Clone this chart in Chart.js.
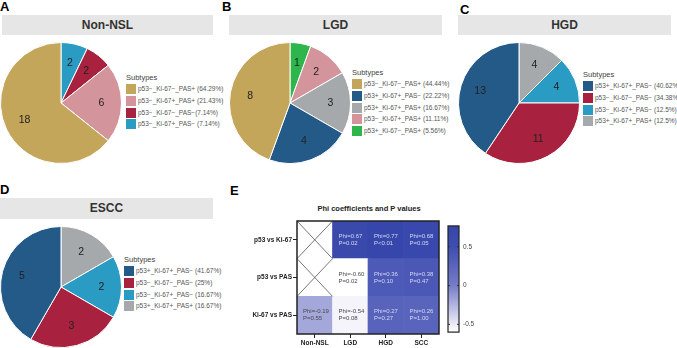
<!DOCTYPE html>
<html>
<head>
<meta charset="utf-8">
<script src="https://cdn.jsdelivr.net/npm/chart.js@4.4.0/dist/chart.umd.min.js"></script>
<style>
    body { margin: 0; width: 677px; height: 348px; position: relative; background: #fff; overflow: hidden;
           font-family: "Liberation Sans", Arial, sans-serif; }
    .abs { position: absolute; }
    .letter { font-size: 13px; font-weight: bold; line-height: 13px; color: #000; }
    .bar { background: #e6e6e6; font-size: 12px; font-weight: bold; color: #333; text-align: center; }
    .legTitle { font-size: 7.5px; color: #444; line-height: 10px; white-space: nowrap; }
    .legText { font-size: 6.5px; color: #555; line-height: 10px; white-space: nowrap; }
    .box { width: 10px; height: 10px; }
    .hmTitle { font-size: 7.5px; font-weight: bold; color: #222; line-height: 10px; white-space: nowrap; }
</style>
</head>
<body>

<div class="abs letter" style="left:0px;top:0px">A</div>
<div class="abs letter" style="left:222px;top:0px">B</div>
<div class="abs letter" style="left:460px;top:3px">C</div>
<div class="abs letter" style="left:0px;top:183px">D</div>
<div class="abs letter" style="left:230px;top:184px">E</div>

<div class="abs bar" style="left:2px;top:15px;width:211px;height:20px;line-height:20px">Non-NSL</div>
<div class="abs bar" style="left:229px;top:15px;width:213px;height:20px;line-height:20px">LGD</div>
<div class="abs bar" style="left:458px;top:15px;width:213px;height:20px;line-height:20px">HGD</div>
<div class="abs bar" style="left:0px;top:198px;width:213px;height:21px;line-height:21px">ESCC</div>

<canvas id="pieA" class="abs" width="122" height="122" style="left:0px;top:42px"></canvas>
<canvas id="pieB" class="abs" width="122" height="122" style="left:229px;top:42px"></canvas>
<canvas id="pieC" class="abs" width="122" height="122" style="left:458px;top:42px"></canvas>
<canvas id="pieD" class="abs" width="122" height="122" style="left:0px;top:226px"></canvas>

<div class="abs hmTitle" style="left:269px;top:204px;width:200px;text-align:center">Phi coefficients and P values</div>
<canvas id="heat" class="abs" width="213" height="134" style="left:230px;top:214px"></canvas>
<canvas id="cbar" class="abs" width="40" height="122" style="left:446px;top:218px"></canvas>

<script>
// pie data, in legend order (the pies run the other way round)
const subtypesA = ['p53−_Ki-67−_PAS+ (64.29%)', 'p53−_Ki-67+_PAS+ (21.43%)', 'p53−_Ki-67−_PAS−(7.14%)', 'p53−_Ki-67+_PAS− (7.14%)'];
const countsA = [18, 6, 2, 2];
const colorsA = ['#c4a65a', '#d4949b', '#a8223f', '#2a9bc2'];

const subtypesB = ['p53−_Ki-67−_PAS+ (44.44%)', 'p53+_Ki-67+_PAS− (22.22%)', 'p53+_Ki-67+_PAS+ (16.67%)', 'p53−_Ki-67+_PAS+ (11.11%)', 'p53+_Ki-67−_PAS+ (5.56%)'];
const countsB = [8, 4, 3, 2, 1];
const colorsB = ['#c4a65a', '#245a87', '#a5a9ab', '#d4949b', '#2db64c'];

const subtypesC = ['p53+_Ki-67+_PAS− (40.62%)', 'p53−_Ki-67−_PAS− (34.38%)', 'p53−_Ki-67+_PAS− (12.5%)', 'p53+_Ki-67+_PAS+ (12.5%)'];
const countsC = [13, 11, 4, 4];
const colorsC = ['#245a87', '#a8223f', '#2a9bc2', '#a5a9ab'];

const subtypesD = ['p53+_Ki-67+_PAS− (41.67%)', 'p53−_Ki-67−_PAS− (25%)', 'p53−_Ki-67+_PAS− (16.67%)', 'p53+_Ki-67+_PAS+ (16.67%)'];
const countsD = [5, 3, 2, 2];
const colorsD = ['#245a87', '#a8223f', '#2a9bc2', '#a5a9ab'];

// heatmap data, rows bottom to top
const hmCols = ['Non-NSL', 'LGD', 'HGD', 'SCC'];
const hmRows = ['Ki-67 vs PAS', 'p53 vs PAS', 'p53 vs Ki-67'];
const phiKi67PAS = [-0.19, -0.54, 0.27, 0.26];
const pKi67PAS = ['P=0.55', 'P=0.08', 'P=0.27', 'P=1.00'];
const phiP53PAS = [null, -0.60, 0.36, 0.38];
const pP53PAS = [null, 'P=0.02', 'P=0.10', 'P=0.47'];
const phiP53Ki67 = [null, 0.67, 0.77, 0.68];
const pP53Ki67 = [null, 'P=0.02', 'P<0.01', 'P=0.05'];

// colour scale
const cbRange = [-0.6, 0.77];
const cbTicks = [-0.5, 0, 0.5];
const cbStopVals = [-0.6, -0.5, 0, 0.5, 0.77];
const cbStopCols = ['#ffffff', '#ececf6', '#767cc8', '#3e4db0', '#3646aa'];

function hexRgb(h) {
    return [parseInt(h.substr(1, 2), 16), parseInt(h.substr(3, 2), 16), parseInt(h.substr(5, 2), 16)];
}

function phiColor(v) {
    for (let i = 0; i < cbStopVals.length - 1; i++) {
        if (v <= cbStopVals[i + 1] || i === cbStopVals.length - 2) {
            let t = (v - cbStopVals[i]) / (cbStopVals[i + 1] - cbStopVals[i]);
            t = Math.max(0, Math.min(1, t));
            const a = hexRgb(cbStopCols[i]), b = hexRgb(cbStopCols[i + 1]);
            const c = a.map((x, k) => Math.round(x + (b[k] - x) * t));
            return 'rgb(' + c.join(',') + ')';
        }
    }
}

// numbers inside the slices
const sliceLabels = {
    id: 'sliceLabels',
    afterDatasetsDraw(chart) {
        const ctx = chart.ctx;
        const vals = chart.data.datasets[0].data;
        ctx.save();
        ctx.font = '10.5px "Liberation Sans", Arial, sans-serif';
        ctx.fillStyle = '#222';
        ctx.textAlign = 'center';
        ctx.textBaseline = 'middle';
        chart.getDatasetMeta(0).data.forEach((arc, i) => {
            const p = arc.getProps(['x', 'y', 'startAngle', 'endAngle', 'outerRadius'], true);
            const mid = (p.startAngle + p.endAngle) / 2;
            const r = p.outerRadius * 0.67;
            ctx.fillText(vals[i], p.x + Math.cos(mid) * r, p.y + Math.sin(mid) * r);
        });
        ctx.restore();
    }
};

function makePie(id, counts, colors) {
    new Chart(document.getElementById(id), {
        type: 'pie',
        data: {
            labels: counts.map((c, i) => i),
            datasets: [{
                data: counts.slice().reverse(),
                backgroundColor: colors.slice().reverse(),
                borderColor: '#ffffff',
                borderWidth: 1,
                hoverOffset: 0
            }]
        },
        options: {
            responsive: false,
            animation: false,
            layout: { padding: 0 },
            plugins: { legend: { display: false }, tooltip: { enabled: false } }
        },
        plugins: [sliceLabels]
    });
}

function makeLegend(left, titleY, names, colors) {
    const t = document.createElement('div');
    t.className = 'abs legTitle';
    t.style.left = left + 'px';
    t.style.top = (titleY - 5) + 'px';
    t.textContent = 'Subtypes';
    document.body.appendChild(t);
    names.forEach((n, i) => {
        const y = titleY + 11 + i * 11.8;
        const b = document.createElement('div');
        b.className = 'abs box';
        b.style.left = left + 'px';
        b.style.top = (y - 5) + 'px';
        b.style.background = colors[i];
        document.body.appendChild(b);
        const s = document.createElement('div');
        s.className = 'abs legText';
        s.style.left = (left + 12) + 'px';
        s.style.top = (y - 5) + 'px';
        s.textContent = n;
        document.body.appendChild(s);
    });
}

makePie('pieA', countsA, colorsA);
makePie('pieB', countsB, colorsB);
makePie('pieC', countsC, colorsC);
makePie('pieD', countsD, colorsD);

makeLegend(126, 78, subtypesA, colorsA);
makeLegend(352, 73, subtypesB, colorsB);
makeLegend(583, 75, subtypesC, colorsC);
makeLegend(124, 260, subtypesD, colorsD);

// heatmap
const hmPhi = [phiKi67PAS, phiP53PAS, phiP53Ki67];
const hmP = [pKi67PAS, pP53PAS, pP53Ki67];

const cellText = {
    id: 'cellText',
    afterDatasetsDraw(chart) {
        const ctx = chart.ctx;
        const a = chart.chartArea;
        ctx.save();
        chart.data.datasets.forEach((ds, di) => {
            chart.getDatasetMeta(di).data.forEach((bar, i) => {
                const p = bar.getProps(['x', 'y', 'base', 'width'], true);
                const l = p.x - p.width / 2, r = p.x + p.width / 2;
                const t = Math.min(p.y, p.base), b = Math.max(p.y, p.base);
                const phi = hmPhi[di][i];
                if (phi === null) {
                    ctx.strokeStyle = '#555';
                    ctx.lineWidth = 0.8;
                    ctx.beginPath();
                    ctx.moveTo(l, t); ctx.lineTo(r, b);
                    ctx.moveTo(r, t); ctx.lineTo(l, b);
                    ctx.stroke();
                } else {
                    const cy = (t + b) / 2;
                    ctx.fillStyle = phi > 0 ? '#d4d8f2' : '#4a4a4a';
                    ctx.font = '6px "Liberation Sans", Arial, sans-serif';
                    ctx.textAlign = 'left';
                    ctx.textBaseline = 'middle';
                    ctx.fillText('Phi=' + phi.toFixed(2), l + 6, cy - 3.5);
                    ctx.fillText(hmP[di][i], l + 6, cy + 3.5);
                }
            });
        });
        ctx.strokeStyle = '#222';
        ctx.lineWidth = 1.5;
        ctx.strokeRect(a.left, a.top, a.width, a.height);
        ctx.restore();
    }
};

new Chart(document.getElementById('heat'), {
    type: 'bar',
    data: {
        labels: hmCols,
        datasets: hmRows.map((row, di) => ({
            label: row,
            data: hmCols.map(() => 1),
            backgroundColor: hmPhi[di].map(v => v === null ? '#ffffff' : phiColor(v)),
            borderWidth: 0,
            barPercentage: 1,
            categoryPercentage: 1
        }))
    },
    options: {
        responsive: false,
        animation: false,
        layout: { padding: { top: 7, right: 4, left: 0, bottom: 0 } },
        plugins: { legend: { display: false }, tooltip: { enabled: false } },
        scales: {
            x: {
                stacked: true,
                afterFit: s => { s.height = 14; },
                grid: { offset: false, drawOnChartArea: false, drawTicks: true, tickLength: 4, color: '#222' },
                border: { display: false },
                ticks: { color: '#222', padding: 1, maxRotation: 0, font: { size: 6.5, weight: 'bold', family: '"Liberation Sans", Arial, sans-serif' } }
            },
            y: {
                stacked: true,
                min: 0,
                max: 3,
                afterFit: s => { s.width = 67; },
                afterBuildTicks: s => { s.ticks = [0.5, 1.5, 2.5].map(v => ({ value: v })); },
                grid: { drawOnChartArea: false, drawTicks: true, tickLength: 4, color: '#222' },
                border: { display: false },
                ticks: {
                    color: '#222', padding: 1,
                    font: { size: 6.5, weight: 'bold', family: '"Liberation Sans", Arial, sans-serif' },
                    callback: (v, i) => hmRows[i]
                }
            }
        }
    },
    plugins: [cellText]
});

// colour bar
const cbFrame = {
    id: 'cbFrame',
    afterDatasetsDraw(chart) {
        const ctx = chart.ctx;
        const a = chart.chartArea;
        const y = chart.scales.y;
        ctx.save();
        ctx.strokeStyle = '#333';
        ctx.lineWidth = 1;
        cbTicks.forEach(v => {
            const py = y.getPixelForValue(v);
            ctx.beginPath();
            ctx.moveTo(a.left, py); ctx.lineTo(a.left + 2, py);
            ctx.moveTo(a.right - 2, py); ctx.lineTo(a.right, py);
            ctx.stroke();
        });
        ctx.strokeStyle = '#222';
        ctx.lineWidth = 1.2;
        ctx.strokeRect(a.left, a.top, a.width, a.height);
        ctx.restore();
    }
};

new Chart(document.getElementById('cbar'), {
    type: 'bar',
    data: {
        labels: [''],
        datasets: [{
            data: [cbRange],
            backgroundColor: (c) => {
                const ch = c.chart;
                if (!ch.chartArea) return '#8c90cc';
                const y = ch.scales.y;
                const g = ch.ctx.createLinearGradient(0, y.getPixelForValue(cbRange[0]), 0, y.getPixelForValue(cbRange[1]));
                cbStopVals.forEach((v, i) => g.addColorStop((v - cbRange[0]) / (cbRange[1] - cbRange[0]), cbStopCols[i]));
                return g;
            },
            borderWidth: 0,
            barPercentage: 1,
            categoryPercentage: 1
        }]
    },
    options: {
        responsive: false,
        animation: false,
        layout: { padding: { top: 5, bottom: 5, left: 2, right: 0 } },
        plugins: { legend: { display: false }, tooltip: { enabled: false } },
        scales: {
            x: { display: false },
            y: {
                position: 'right',
                min: cbRange[0],
                max: cbRange[1],
                afterFit: s => { s.width = 27; },
                afterBuildTicks: s => { s.ticks = cbTicks.map(v => ({ value: v })); },
                grid: { display: false, drawTicks: false, tickLength: 0 },
                border: { display: false },
                ticks: { color: '#444', padding: 4, font: { size: 6.5, family: '"Liberation Sans", Arial, sans-serif' } }
            }
        }
    },
    plugins: [cbFrame]
});
</script>
</body>
</html>
